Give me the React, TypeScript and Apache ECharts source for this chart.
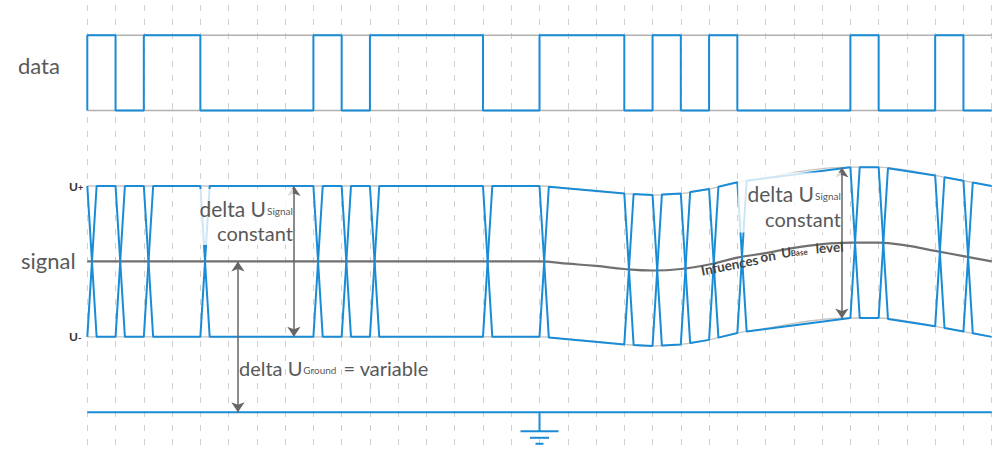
import React, { useEffect, useRef } from "react";
import * as echarts from "echarts";

// ---- data ----
// one bit per grid interval (32 intervals)
const bits = [1, 0, 1, 1, 0, 0, 0, 0, 1, 0, 1, 1, 1, 1, 0, 0, 1, 1, 1, 0, 1, 0, 1, 0, 0, 0, 0, 1, 0, 0, 1, 0];
// U base level at every grid line (0..32), in units of half the signal swing above ground
const baseLevel = [
  2, 2, 2, 2, 2, 2, 2, 2, 2, 2, 2, 2, 2, 2, 2, 2,
  2.0, 1.97, 1.94, 1.9, 1.88, 1.9, 1.96, 2.05, 2.11, 2.18, 2.23, 2.25, 2.25, 2.21, 2.14, 2.07, 2.0,
];
const GRID_COUNT = 32;
const DATA_LOW = 4;
const DATA_HIGH = 5;
const GROUND = 0;
const SWING = 1; // half of delta U signal
const EDGE = 0.33; // transition duration (in grid units)
const groundArrowX = 5.33;
const signalArrowLeftX = 7.31;
const signalArrowRightX = 26.7;
const groundSymbolX = 16;

const BLUE = "#1a8cd6";
const TXT = "#595959";
const FONT = "Lato, 'Open Sans', sans-serif";

function baseAt(x: number) {
  const i = Math.max(0, Math.min(Math.floor(x), baseLevel.length - 2));
  const f = x - i;
  return baseLevel[i] * (1 - f) + baseLevel[i + 1] * f;
}

function buildSignal(sign: number) {
  const pts: number[][] = [];
  let prev = 0;
  const lvl = (b: number) => (b ? SWING : -SWING) * sign;
  pts.push([0, baseAt(0) + lvl(prev)]);
  for (let t = 0; t < bits.length; t++) {
    if (bits[t] !== prev) {
      pts.push([t, baseAt(t) + lvl(prev)]);
      pts.push([t + EDGE, baseAt(t + EDGE) + lvl(bits[t])]);
      prev = bits[t];
    }
  }
  pts.push([GRID_COUNT, baseAt(GRID_COUNT) + lvl(prev)]);
  return pts;
}

function buildData() {
  const pts: number[][] = [[0, DATA_LOW]];
  bits.forEach((b, i) => {
    const v = b ? DATA_HIGH : DATA_LOW;
    pts.push([i, v], [i + 1, v]);
  });
  return pts;
}

let measureCtx: CanvasRenderingContext2D | null = null;
function textWidth(t: string, size: number, weight = "normal") {
  if (!measureCtx) measureCtx = document.createElement("canvas").getContext("2d");
  measureCtx!.font = `${weight} ${size}px ${FONT}`;
  return measureCtx!.measureText(t).width;
}

function txt(text: string, x: number, y: number, size: number, opts: any = {}) {
  return {
    type: "text",
    x,
    y,
    rotation: opts.rotation || 0,
    z: 10,
    silent: true,
    style: {
      text,
      fill: opts.color || TXT,
      fontSize: size,
      fontFamily: FONT,
      fontWeight: opts.weight || "normal",
      align: opts.align || "left",
      verticalAlign: opts.valign || "bottom",
    },
  };
}

export default function App() {
  const ref = useRef<HTMLDivElement>(null);
  useEffect(() => {
    const chart = echarts.init(ref.current!, undefined, { renderer: "svg" });
    const line = (data: number[][], color: string, width: number, extra: any = {}) => ({
      type: "line",
      data,
      symbol: "none",
      silent: true,
      lineStyle: { color, width },
      emphasis: { disabled: true },
      ...extra,
    });
    chart.setOption({
      animation: false,
      grid: { left: 87.3, right: 13.3, top: 5, bottom: 0 },
      xAxis: {
        type: "value",
        min: 0,
        max: GRID_COUNT,
        interval: 1,
        axisLine: { show: false },
        axisTick: { show: false },
        axisLabel: { show: false },
        splitLine: { show: true, lineStyle: { color: "#cfcfcf", width: 1, type: [6, 8] } },
      },
      yAxis: {
        type: "value",
        min: -0.5,
        max: 5.4,
        axisLine: { show: false },
        axisTick: { show: false },
        axisLabel: { show: false },
        splitLine: { show: false },
      },
      series: [
        line([[0, DATA_LOW], [GRID_COUNT, DATA_LOW]], "#b0b0b0", 1.5),
        line([[0, DATA_HIGH], [GRID_COUNT, DATA_HIGH]], "#b0b0b0", 1.5),
        line(buildData(), BLUE, 2),
        line(baseLevel.map((b, i) => [i, b + SWING]), "#c4c4c4", 1.3, { smooth: 0.4 }),
        line(baseLevel.map((b, i) => [i, b - SWING]), "#c4c4c4", 1.3, { smooth: 0.4 }),
        line(baseLevel.map((b, i) => [i, b]), "#707070", 2.2, { smooth: 0.4 }),
        line(buildSignal(1), BLUE, 2),
        line(buildSignal(-1), BLUE, 2),
        line([[0, GROUND], [GRID_COUNT, GROUND]], BLUE, 2, {
          markLine: {
            silent: true,
            symbol: ["arrow", "arrow"],
            symbolSize: 10,
            label: { show: false },
            emphasis: { disabled: true },
            lineStyle: { color: "#666", width: 1.5, type: "solid" },
            data: [
              [{ coord: [groundArrowX, baseAt(groundArrowX)] }, { coord: [groundArrowX, GROUND] }],
              [{ coord: [signalArrowLeftX, baseAt(signalArrowLeftX) + SWING] }, { coord: [signalArrowLeftX, baseAt(signalArrowLeftX) - SWING] }],
              [{ coord: [signalArrowRightX, baseAt(signalArrowRightX) + SWING] }, { coord: [signalArrowRightX, baseAt(signalArrowRightX) - SWING] }],
            ],
          },
        }),
      ],
    });

    const px = (x: number, y: number) => chart.convertToPixel({ gridIndex: 0 }, [x, y]) as number[];
    const g: any[] = [];
    const blueLine = (x1: number, y1: number, x2: number, y2: number) => ({
      type: "line",
      silent: true,
      z: 10,
      shape: { x1, y1, x2, y2 },
      style: { stroke: BLUE, lineWidth: 2 },
    });

    // ground symbol
    const gp = px(groundSymbolX, GROUND);
    g.push(blueLine(gp[0], gp[1], gp[0], gp[1] + 19));
    g.push(blueLine(gp[0] - 19, gp[1] + 19, gp[0] + 19, gp[1] + 19));
    g.push(blueLine(gp[0] - 9.5, gp[1] + 25.5, gp[0] + 9.5, gp[1] + 25.5));
    g.push(blueLine(gp[0] - 4, gp[1] + 31.5, gp[0] + 4, gp[1] + 31.5));

    // left-side labels
    const dataY = (px(0, DATA_HIGH)[1] + px(0, DATA_LOW)[1]) / 2;
    g.push(txt("data", 18, dataY + 4, 22, { valign: "bottom" }));
    const sigY = px(0, baseLevel[0])[1];
    g.push(txt("signal", 21, sigY + 10, 22, { valign: "bottom" }));
    const upY = px(0, baseLevel[0] + SWING)[1];
    const dnY = px(0, baseLevel[0] - SWING)[1];
    g.push(txt("U", 69, upY, 12, { valign: "middle", color: "#333", weight: "bold" }));
    g.push(txt("+", 78, upY + 1, 9, { valign: "middle", color: "#333", weight: "bold" }));
    g.push(txt("U", 69, dnY, 12, { valign: "middle", color: "#333", weight: "bold" }));
    g.push(txt("-", 78, dnY + 1, 9, { valign: "middle", color: "#333", weight: "bold" }));

    // delta U Signal (left)
    const la = px(signalArrowLeftX, baseAt(signalArrowLeftX) + SWING);
    g.push({
      type: "rect", silent: true, z: 9,
      shape: { x: la[0] - 99, y: la[1] + 3, width: 98, height: 56 },
      style: { fill: "rgba(255,255,255,0.78)" },
    });
    const subW1 = textWidth("Signal", 10);
    g.push(txt("Signal", la[0] - 1 - subW1, la[1] + 30, 10, {}));
    g.push(txt("delta U", la[0] - 2 - subW1, la[1] + 33, 21, { align: "right" }));
    g.push(txt("constant", la[0] - 1, la[1] + 57, 20, { align: "right" }));

    // delta U Signal (right)
    const ra = px(signalArrowRightX, baseAt(signalArrowRightX) + SWING);
    g.push({
      type: "rect", silent: true, z: 9,
      shape: { x: ra[0] - 104, y: ra[1] + 5, width: 103, height: 60 },
      style: { fill: "rgba(255,255,255,0.78)" },
    });
    g.push(txt("Signal", ra[0] - 1 - subW1, ra[1] + 33, 10, {}));
    g.push(txt("delta U", ra[0] - 2 - subW1, ra[1] + 36, 21, { align: "right" }));
    g.push(txt("constant", ra[0] - 1, ra[1] + 61, 20, { align: "right" }));

    // delta U Ground
    const ga = px(groundArrowX, GROUND);
    const gx = ga[0] + 1;
    const gy = ga[1] - 37;
    const w1 = textWidth("delta U", 20);
    g.push(txt("delta U", gx, gy + 3, 20, {}));
    g.push(txt("Ground", gx + w1 + 1, gy, 10, {}));
    const w2 = textWidth("Ground", 10);
    g.push(txt("= variable", gx + w1 + w2 + 8, gy + 3, 20, {}));

    // Infuences on U Base level (along the base curve)
    const along = [
      { t: "Infuences", x: 731, y: 272, r: 0.2, s: 13.5 },
      { t: "on", x: 769, y: 263, r: 0.15, s: 13.5 },
      { t: "U", x: 787, y: 259.5, r: 0.11, s: 13.5 },
      { t: "Base", x: 799.5, y: 256.5, r: 0.1, s: 8 },
      { t: "level", x: 830, y: 254.5, r: 0.07, s: 13.5 },
    ];
    along.forEach((a) =>
      g.push(txt(a.t, a.x, a.y, a.s, { align: "center", valign: "bottom", rotation: a.r, color: "#444", weight: "bold" }))
    );

    chart.setOption({ graphic: g });
    return () => chart.dispose();
  }, []);
  return (
    <div
      ref={ref}
      style={{ position: "fixed", left: 0, top: 0, width: 1005, height: 450, background: "#fff" }}
    />
  );
}
